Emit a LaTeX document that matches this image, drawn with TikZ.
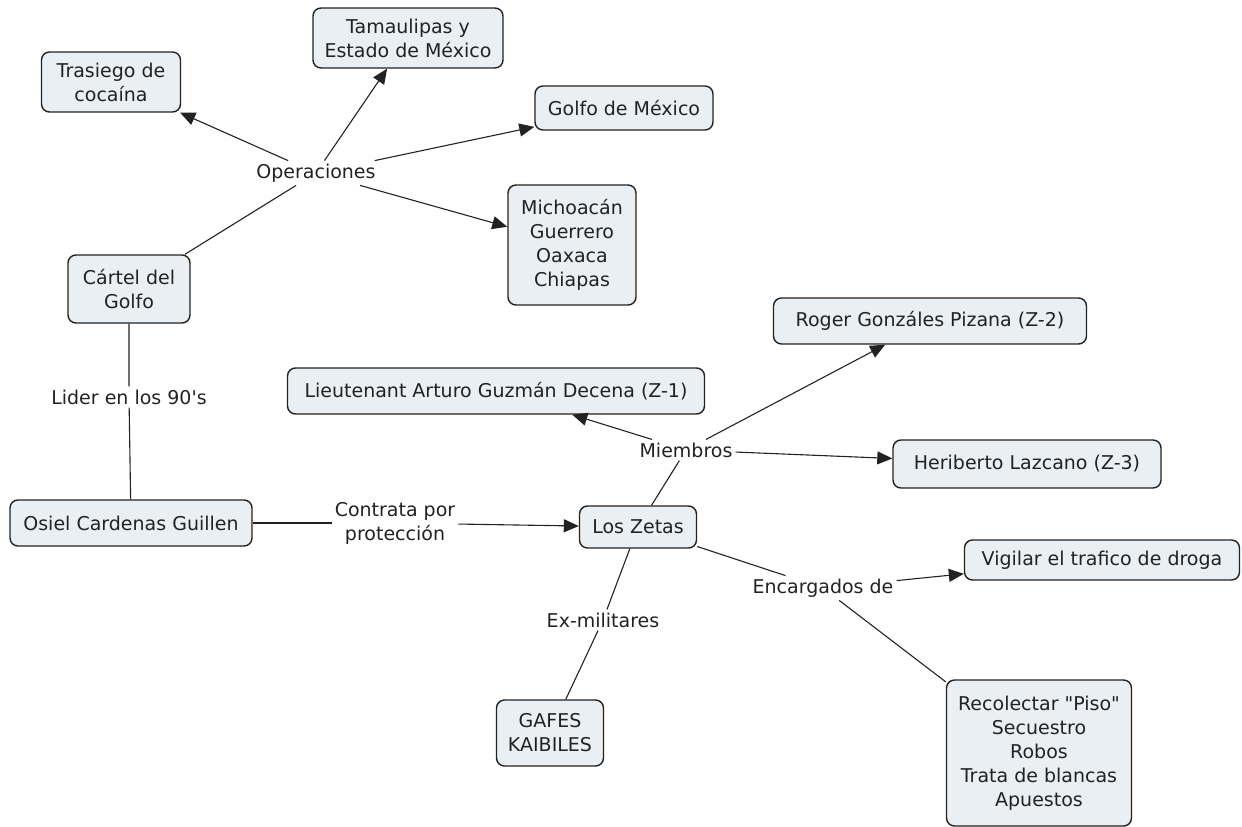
\documentclass[tikz,border=0pt]{standalone}
\usepackage{fontspec}
\setmainfont{DejaVu Sans}[Ligatures=TeXOff]
\usetikzlibrary{arrows.meta}
\definecolor{boxfill}{HTML}{E9EFF3}
\definecolor{ink}{HTML}{222222}

\begin{document}
\begin{tikzpicture}[x=1pt, y=-1pt,
        concept/.style={draw=ink, fill=boxfill, line width=1.4pt, rounded corners=8pt,
                align=center, text=ink, inner sep=0pt},
        linkword/.style={text=ink, align=center, inner sep=3pt},
        link/.style={draw=ink, line width=1.1pt},
        arrowto/.style={link, -{Triangle[length=15pt, width=13pt]}},
        every node/.style={font=\fontsize{19}{24}\selectfont}]
                \path[use as bounding box] (0, 0) rectangle (1242, 827);
                \node[concept, minimum width=139, minimum height=60] (trasiego) at (111, 82) {Trasiego de\\cocaína};
                \node[concept, minimum width=190, minimum height=60] (tamaulipas) at (408, 38) {Tamaulipas y\\Estado de México};
                \node[concept, minimum width=178, minimum height=44] (golfomex) at (624, 108) {Golfo de México};
                \node[concept, minimum width=128, minimum height=120] (estados) at (572, 245) {Michoacán\\Guerrero\\Oaxaca\\Chiapas};
                \node[concept, minimum width=122, minimum height=68] (cartel) at (129, 289) {Cártel del\\Golfo};
                \node[concept, minimum width=313, minimum height=46] (roger) at (930, 321) {Roger Gonzáles Pizana (Z-2)};
                \node[concept, minimum width=417, minimum height=46] (arturo) at (496, 391) {Lieutenant Arturo Guzmán Decena (Z-1)};
                \node[concept, minimum width=268, minimum height=48] (heriberto) at (1027, 464) {Heriberto Lazcano (Z-3)};
                \node[concept, minimum width=242, minimum height=46] (osiel) at (131, 523) {Osiel Cardenas Guillen};
                \node[concept, minimum width=117, minimum height=42] (zetas) at (638, 527) {Los Zetas};
                \node[concept, minimum width=275, minimum height=40] (vigilar) at (1102, 560) {Vigilar el trafico de droga};
                \node[concept, minimum width=107, minimum height=66] (gafes) at (550, 733) {GAFES\\KAIBILES};
                \node[concept, minimum width=185, minimum height=146] (recolectar) at (1039, 753) {Recolectar "Piso"\\Secuestro\\Robos\\Trata de blancas\\Apuestos};

                \node[linkword] (operaciones) at (316, 173) {Operaciones};
                \node[linkword] (lider) at (129, 397) {Lider en los 90's};
                \node[linkword] (contrata) at (395, 523) {Contrata por\\protección};
                \node[linkword] (miembros) at (686, 450) {Miembros};
                \node[linkword] (encargados) at (823, 588) {Encargados de};
                \node[linkword] (exmilitares) at (603, 620) {Ex-militares};

                \draw[link] (cartel) -- (operaciones);
                \foreach \t in {trasiego, tamaulipas, golfomex, estados}
                        \draw[arrowto] (operaciones) -- (\t);
                \draw[link] (cartel) -- (lider) -- (osiel);
                \draw[link] (osiel) -- (contrata);
                \draw[arrowto] (contrata) -- (zetas);
                \draw[link] (zetas) -- (miembros);
                \foreach \t in {arturo, roger, heriberto}
                        \draw[arrowto] (miembros) -- (\t);
                \draw[link] (zetas) -- (encargados);
                \draw[arrowto] (encargados) -- (vigilar);
                \draw[link] (encargados) -- (recolectar);
                \draw[link] (zetas) -- (exmilitares) -- (gafes);
        \end{tikzpicture}
\end{document}
